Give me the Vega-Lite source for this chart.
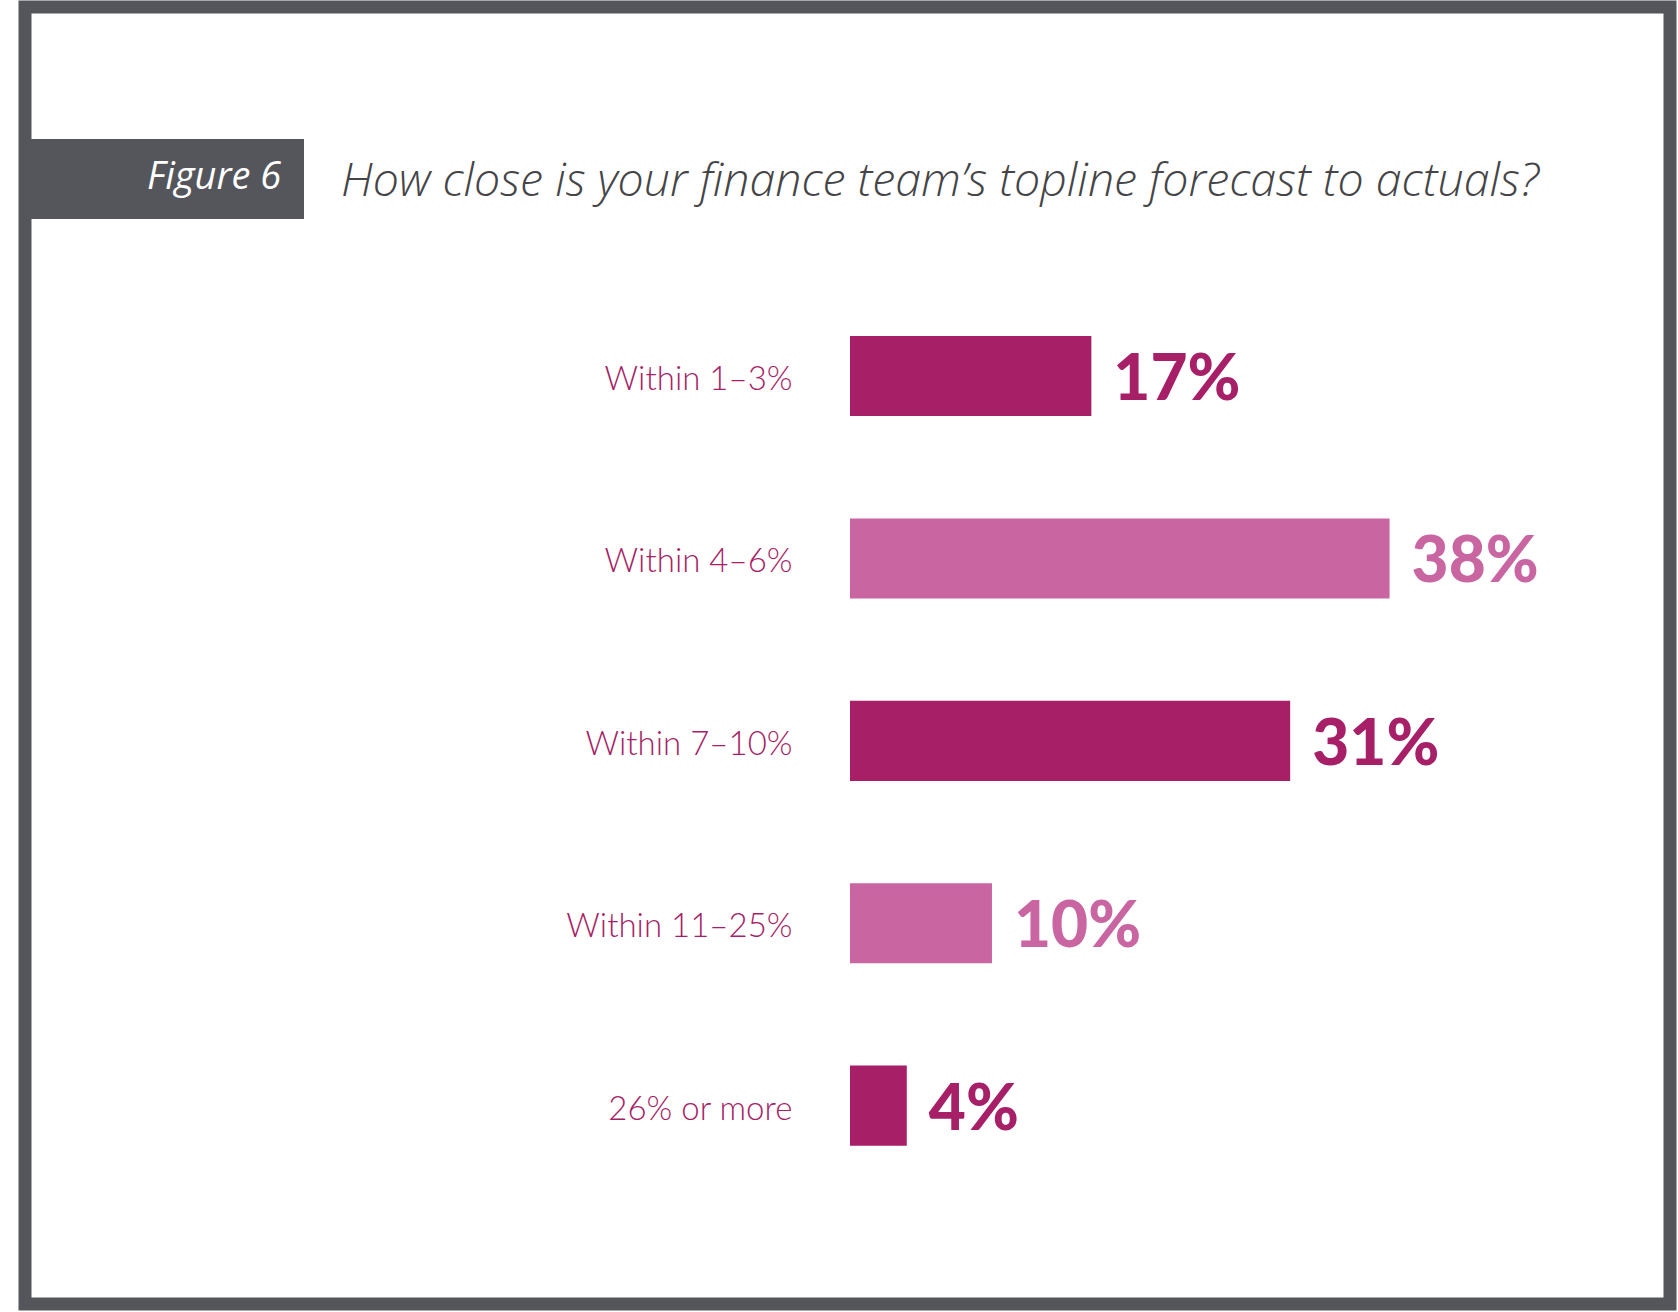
{
  "$schema": "https://vega.github.io/schema/vega-lite/v6.json",
  "width": 1645,
  "height": 1297,
  "autosize": {"type": "none"},
  "padding": {"left": 25, "top": 7, "right": 8, "bottom": 8},
  "background": "white",
  "view": {"stroke": "#55565b", "strokeWidth": 13, "fill": "white"},
  "title": {
    "text": "How close is your finance team’s topline forecast to actuals?",
    "anchor": "start",
    "frame": "group",
    "orient": "top",
    "font": "Open Sans",
    "fontStyle": "italic",
    "fontWeight": 300,
    "fontSize": 46.5,
    "color": "#454548",
    "baseline": "alphabetic",
    "dx": 316,
    "offset": -235
  },
  "data": {
    "values": [
      {"category": "Within 1–3%", "value": 0.17},
      {"category": "Within 4–6%", "value": 0.38},
      {"category": "Within 7–10%", "value": 0.31},
      {"category": "Within 11–25%", "value": 0.10},
      {"category": "26% or more", "value": 0.04}
    ]
  },
  "encoding": {
    "y": {
      "field": "category",
      "type": "nominal",
      "sort": null,
      "scale": {"range": [329, 1138.7], "paddingInner": 0.561, "paddingOuter": 0},
      "axis": {
        "title": null,
        "orient": "left",
        "offset": -825,
        "domain": false,
        "ticks": false,
        "tickSize": 0,
        "grid": false,
        "labelPadding": 58,
        "labelFont": "Lato",
        "labelFontSize": 33,
        "labelFontWeight": 300,
        "labelColor": "#A61F67",
        "labelBaseline": "alphabetic",
        "labelOffset": 14,
        "labelLimit": 500
      }
    },
    "x": {
      "field": "value",
      "type": "quantitative",
      "scale": {"domain": [-0.581, 0.5775], "nice": false, "zero": false},
      "axis": null
    },
    "fill": {
      "field": "category",
      "type": "nominal",
      "sort": null,
      "scale": {
        "domain": ["Within 1–3%", "Within 4–6%", "Within 7–10%", "Within 11–25%", "26% or more"],
        "range": ["#A61F67", "#C966A2", "#A61F67", "#C966A2", "#A61F67"]
      },
      "legend": {
        "orient": "none",
        "legendX": 0,
        "legendY": 132,
        "values": ["Within 1–3%"],
        "title": "Figure 6",
        "titleOrient": "right",
        "titleAnchor": "middle",
        "titleAngle": 0,
        "titleFont": "Open Sans",
        "titleFontStyle": "italic",
        "titleFontWeight": 400,
        "titleFontSize": 38,
        "titleColor": "white",
        "titleBaseline": "middle",
        "titlePadding": 12,
        "fillColor": "#55565b",
        "padding": 22,
        "cornerRadius": 0,
        "symbolType": "square",
        "symbolSize": 1089,
        "symbolOpacity": 0,
        "symbolFillColor": "#55565b",
        "symbolStrokeWidth": 0,
        "labelExpr": "''",
        "labelFontSize": 1,
        "labelOffset": 55
      }
    }
  },
  "layer": [
    {
      "mark": {"type": "bar"},
      "encoding": {"x2": {"datum": 0}}
    },
    {
      "mark": {
        "type": "text",
        "align": "left",
        "baseline": "alphabetic",
        "dx": 22,
        "dy": 24,
        "font": "Lato",
        "fontWeight": 900,
        "fontSize": 64
      },
      "encoding": {
        "text": {"field": "value", "type": "quantitative", "format": ".0%"}
      }
    }
  ]
}
